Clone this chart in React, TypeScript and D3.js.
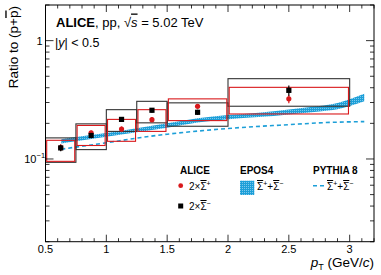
import React from "react";
import { scaleLinear, scaleLog, area, line, curveMonotoneX, range } from "d3";

// bins (pT edges) and centres
const binLow = [0.5, 0.75, 1.0, 1.25, 1.5, 2.0];
const binHigh = [0.75, 1.0, 1.25, 1.5, 2.0, 3.0];
const binMid = [0.625, 0.875, 1.125, 1.375, 1.75, 2.5];

// 2 x anti-Sigma+ (red)
const redVal = [0.125, 0.166, 0.179, 0.215, 0.279, 0.322];
const redStat = [0.008, 0.008, 0.009, 0.011, 0.013, 0.026];
const redSysLo = [0.0955, 0.130, 0.141, 0.171, 0.211, 0.240];
const redSysHi = [0.1438, 0.192, 0.216, 0.261, 0.322, 0.403];

// 2 x anti-Sigma- (black)
const blackVal = [0.124, 0.158, 0.216, 0.258, 0.248, 0.380];
const blackStat = [0.008, 0.008, 0.010, 0.012, 0.013, 0.038];
const blackSysLo = [0.0937, 0.120, 0.171, 0.202, 0.189, 0.279];
const blackSysHi = [0.1507, 0.198, 0.261, 0.307, 0.298, 0.477];

// EPOS4 band
const eposPt = [0.63, 0.75, 1.0, 1.25, 1.5, 1.75, 2.0, 2.25, 2.5, 2.75, 2.9, 3.0, 3.12];
const eposLo = [0.135, 0.141, 0.154, 0.168, 0.184, 0.203, 0.217, 0.226, 0.238, 0.252, 0.263, 0.280, 0.308];
const eposHi = [0.147, 0.153, 0.166, 0.182, 0.200, 0.221, 0.235, 0.246, 0.262, 0.280, 0.297, 0.320, 0.356];

// PYTHIA 8 line
const pythiaPt = [0.63, 0.75, 1.0, 1.25, 1.5, 1.75, 2.0, 2.5, 2.8, 3.12];
const pythiaVal = [0.121, 0.126, 0.137, 0.150, 0.162, 0.172, 0.181, 0.195, 0.203, 0.207];

const xTicks = [0.5, 1, 1.5, 2, 2.5, 3];
const xTickLabels = ["0.5", "1", "1.5", "2", "2.5", "3"];

const W = 381;
const H = 275;
const L = 45.5, R = 374, T = 5, B = 241.7;

const RED = "#d9191c";
const BLUE = "#1d9fd8";
const FONT = "Liberation Sans, Arial, sans-serif";

const App = () => {
  const x = scaleLinear().domain([0.5, 3.2]).range([L, R]);
  const y = scaleLog().domain([0.02, 2]).range([B, T]);

  const bandGen = area<number>()
    .x((_, i) => x(eposPt[i]))
    .y0((_, i) => y(eposLo[i]))
    .y1((_, i) => y(eposHi[i]))
    .curve(curveMonotoneX);

  const pythiaGen = line<number>()
    .x((_, i) => x(pythiaPt[i]))
    .y((d) => y(d))
    .curve(curveMonotoneX);

  const xMinor = range(0.5, 3.21, 0.1);
  const yMinor = y.ticks();

  const sysBox = (lo: number[], hi: number[], color: string, inset: number) =>
    binLow.map((b, i) => (
      <rect
        key={color + i}
        x={x(b) + inset}
        y={y(hi[i])}
        width={x(binHigh[i]) - x(b) - 2 * inset}
        height={y(lo[i]) - y(hi[i])}
        fill="none"
        stroke={color}
        strokeWidth={1.1}
      />
    ));

  // Σ̄⁺ + Σ̄⁻ legend text
  const sumText = (
    <>
      <tspan textDecoration="overline">Σ</tspan>
      <tspan dy={-4} fontSize={7}>+</tspan>
      <tspan dy={4}>+</tspan>
      <tspan textDecoration="overline">Σ</tspan>
      <tspan dy={-4} fontSize={7}>−</tspan>
    </>
  );

  return (
    <svg
      width={W}
      height={H}
      style={{ position: "absolute", left: 0, top: 0, background: "#fff" }}
      fontFamily={FONT}
    >
      <defs>
        <pattern id="eposFill" width={2} height={2} patternUnits="userSpaceOnUse">
          <rect width={2} height={2} fill={BLUE} />
          <rect width={1} height={1} fill="#7cc8ec" />
        </pattern>
        <clipPath id="frameClip">
          <rect x={L} y={T} width={R - L} height={B - T} />
        </clipPath>
      </defs>

      <g clipPath="url(#frameClip)">
        <path d={bandGen(eposPt) || ""} fill="url(#eposFill)" stroke="none" />
        <path
          d={pythiaGen(pythiaVal) || ""}
          fill="none"
          stroke={BLUE}
          strokeWidth={1.6}
          strokeDasharray="4,3"
        />
        {sysBox(blackSysLo, blackSysHi, "#333", 0)}
        {sysBox(redSysLo, redSysHi, RED, 1.2)}

        {binMid.map((m, i) => (
          <g key={"r" + i}>
            <line x1={x(m)} x2={x(m)} y1={y(redVal[i] - redStat[i])} y2={y(redVal[i] + redStat[i])} stroke={RED} strokeWidth={1.2} />
            <circle cx={x(m)} cy={y(redVal[i])} r={2.6} fill={RED} />
          </g>
        ))}
        {binMid.map((m, i) => (
          <g key={"b" + i}>
            <line x1={x(m)} x2={x(m)} y1={y(blackVal[i] - blackStat[i])} y2={y(blackVal[i] + blackStat[i])} stroke="#000" strokeWidth={1.2} />
            <rect x={x(m) - 2.6} y={y(blackVal[i]) - 2.6} width={5.2} height={5.2} fill="#000" />
          </g>
        ))}
      </g>

      {/* axes ticks */}
      {xMinor.map((t, i) => {
        const major = xTicks.some((v) => Math.abs(v - t) < 1e-6);
        const len = major ? 7 : 3.5;
        return (
          <g key={"xm" + i} stroke="#000" strokeWidth={0.8}>
            <line x1={x(t)} x2={x(t)} y1={B} y2={B - len} />
            <line x1={x(t)} x2={x(t)} y1={T} y2={T + len} />
          </g>
        );
      })}
      {yMinor.map((t, i) => {
        const major = Math.abs(Math.log10(t) - Math.round(Math.log10(t))) < 1e-6;
        const len = major ? 8 : 4;
        return (
          <g key={"ym" + i} stroke="#000" strokeWidth={0.8}>
            <line x1={L} x2={L + len} y1={y(t)} y2={y(t)} />
            <line x1={R} x2={R - len} y1={y(t)} y2={y(t)} />
          </g>
        );
      })}
      <rect x={L} y={T} width={R - L} height={B - T} fill="none" stroke="#000" strokeWidth={1} />

      {xTicks.map((t, i) => (
        <text key={"xl" + i} x={x(t)} y={253} fontSize={11} textAnchor="middle">
          {xTickLabels[i]}
        </text>
      ))}
      <text x={L - 3} y={y(1) + 4} fontSize={11} textAnchor="end">1</text>
      <text x={L - 9} y={y(0.1) + 4} fontSize={11} textAnchor="end">10</text>
      <text x={L - 9} y={y(0.1) - 1} fontSize={7.5} textAnchor="start">−1</text>

      {/* axis titles */}
      <text x={R} y={267} fontSize={13.5} textAnchor="end">
        <tspan fontStyle="italic">p</tspan>
        <tspan dy={3} fontSize={9}>T</tspan>
        <tspan dy={-3}> (GeV/</tspan>
        <tspan fontStyle="italic">c</tspan>
        <tspan>)</tspan>
      </text>
      <text transform={`translate(18.3, 6) rotate(-90)`} fontSize={13.5} textAnchor="end">
        Ratio to (p+<tspan textDecoration="overline">p</tspan>)
      </text>

      {/* header */}
      <text x={56} y={26.5} fontSize={13}>
        <tspan fontWeight="bold">ALICE</tspan>
        <tspan>, pp, √</tspan>
        <tspan fontStyle="italic" textDecoration="overline">s</tspan>
        <tspan> = 5.02 TeV</tspan>
      </text>
      <text x={55} y={46.5} fontSize={12.5}>
        |<tspan fontStyle="italic">y</tspan>| &lt; 0.5
      </text>

      {/* legend */}
      <text x={180} y={174} fontSize={10} fontWeight="bold">ALICE</text>
      <text x={240} y={174} fontSize={10} fontWeight="bold">EPOS4</text>
      <text x={313} y={174} fontSize={10} fontWeight="bold">PYTHIA 8</text>

      <circle cx={180.7} cy={185.7} r={2.4} fill={RED} />
      <text x={189} y={190} fontSize={10}>
        2×<tspan textDecoration="overline">Σ</tspan>
        <tspan dy={-4} fontSize={7}>+</tspan>
      </text>
      <rect x={178.2} y={203.5} width={5} height={5} fill="#000" />
      <text x={189} y={210} fontSize={10}>
        2×<tspan textDecoration="overline">Σ</tspan>
        <tspan dy={-4} fontSize={7}>−</tspan>
      </text>

      <rect x={240} y={180.7} width={14.3} height={14.3} fill="url(#eposFill)" />
      <text x={257} y={190} fontSize={10}>{sumText}</text>

      <line x1={313} x2={324} y1={185.7} y2={185.7} stroke={BLUE} strokeWidth={1.6} strokeDasharray="4,3" />
      <text x={327} y={190} fontSize={10}>{sumText}</text>
    </svg>
  );
};

export default App;
